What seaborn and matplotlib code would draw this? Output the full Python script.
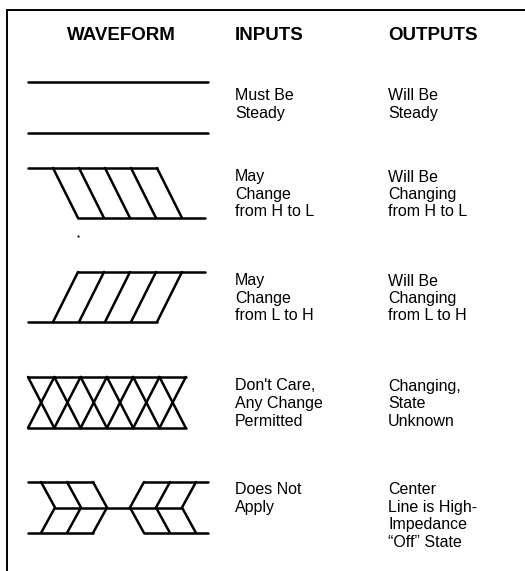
import pandas as pd
import matplotlib
matplotlib.use('Agg')
import matplotlib.pyplot as plt
import seaborn as sns

# Table text
header_labels = ['WAVEFORM', 'INPUTS', 'OUTPUTS']
header_x = [121, 235, 388]
input_labels = [
    ['Must Be', 'Steady'],
    ['May', 'Change', 'from H to L'],
    ['May', 'Change', 'from L to H'],
    ["Don't Care,", 'Any Change', 'Permitted'],
    ['Does Not', 'Apply'],
]
output_labels = [
    ['Will Be', 'Steady'],
    ['Will Be', 'Changing', 'from H to L'],
    ['Will Be', 'Changing', 'from L to H'],
    ['Changing,', 'State', 'Unknown'],
    ['Center', 'Line is High-', 'Impedance', '\u201cOff\u201d State'],
]
row_text_y = [96, 177, 281, 386, 490]

# Waveform geometry (pixel units of the page)
row_top = [82, 168, 272, 377, 482]
row_bot = [133, 218, 322, 428, 533]
wave_left, wave_right = 28, 208
slant_top_x = [53, 79, 105, 131, 157]   # stripe start on the first rail
slant_run = 25
x_cross = [28, 54.3, 80.6, 106.9, 133.2, 159.5, 185.8]
chev_left_x = [41, 67, 93]
chev_right_x = [144, 170, 196]
chev_run = 14
speck = (78, 236)

segs = []

def add(pts):
    n = segs[-1][0] + 1 if segs else 0
    for x, y in pts:
        segs.append((n, x, y))

# steady
add([(wave_left, row_top[0]), (wave_right, row_top[0])])
add([(wave_left, row_bot[0]), (wave_right, row_bot[0])])

# H -> L
t, b = row_top[1], row_bot[1]
add([(wave_left, t), (slant_top_x[-1], t)])
add([(slant_top_x[0] + slant_run, b), (wave_right - 3, b)])
for x in slant_top_x:
    add([(x, t), (x + slant_run, b)])

# L -> H
t, b = row_top[2], row_bot[2]
add([(slant_top_x[0] + slant_run, t), (wave_right - 3, t)])
add([(wave_left, b), (slant_top_x[-1], b)])
for x in slant_top_x:
    add([(x, b), (x + slant_run, t)])

# don't care
t, b = row_top[3], row_bot[3]
add([(x_cross[0], t), (x_cross[-1], t)])
add([(x_cross[0], b), (x_cross[-1], b)])
for x0, x1 in zip(x_cross[:-1], x_cross[1:]):
    add([(x0, t), (x1, b)])
    add([(x0, b), (x1, t)])

# high impedance
t, b = row_top[4], row_bot[4]
c = (t + b) / 2
add([(wave_left, t), (chev_left_x[-1], t)])
add([(wave_left, b), (chev_left_x[-1], b)])
add([(chev_right_x[0], t), (wave_right, t)])
add([(chev_right_x[0], b), (wave_right, b)])
add([(chev_left_x[0] + chev_run, c), (chev_right_x[-1] - chev_run, c)])
for x in chev_left_x:
    add([(x, t), (x + chev_run, c), (x, b)])
for x in chev_right_x:
    add([(x, t), (x - chev_run, c), (x, b)])

wave_df = pd.DataFrame(segs, columns=['seg', 'x', 'y'])

# frame: top rule and left rule
frame_df = pd.DataFrame({'seg': [0, 0, 1, 1],
                         'x': [7, 525, 7, 7],
                         'y': [10, 10, 10, 571]})

sns.set_theme(style='white')
plt.rcParams['font.family'] = ['Liberation Sans', 'DejaVu Sans']

fig = plt.figure(figsize=(5.25, 5.71), dpi=100)
ax = fig.add_axes([0, 0, 1, 1])

sns.lineplot(data=frame_df, x='x', y='y', units='seg', estimator=None,
             sort=False, color='black', linewidth=1.4, ax=ax)
sns.lineplot(data=wave_df, x='x', y='y', units='seg', estimator=None,
             sort=False, color='black', linewidth=1.8, ax=ax)
sns.scatterplot(x=[speck[0]], y=[speck[1]], s=3, color='black', ax=ax)

for lab, x in zip(header_labels, header_x):
    ha = 'center' if lab == 'WAVEFORM' else 'left'
    ax.text(x, 36, lab, ha=ha, va='center', fontsize=13.5,
            fontweight='bold', color='black')

line_gap = 17.5
for lines_in, lines_out, y0 in zip(input_labels, output_labels, row_text_y):
    for i, s in enumerate(lines_in):
        ax.text(235, y0 + i * line_gap, s, ha='left', va='center',
                fontsize=11.5, color='black')
    for i, s in enumerate(lines_out):
        ax.text(388, y0 + i * line_gap, s, ha='left', va='center',
                fontsize=11.5, color='black')

ax.set_xlim(0, 525)
ax.set_ylim(571, 0)
ax.axis('off')

fig.savefig('out.png', dpi=100)
